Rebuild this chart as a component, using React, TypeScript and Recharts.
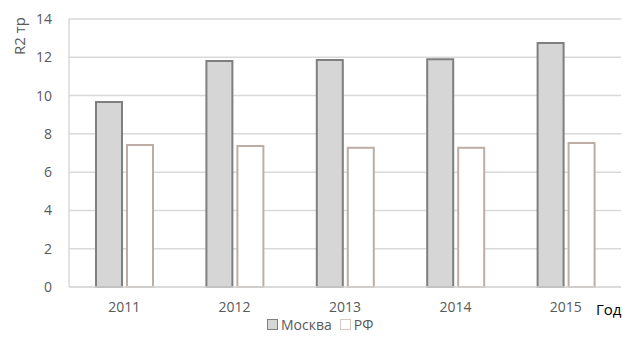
import { Bar, BarChart, CartesianGrid, XAxis, YAxis } from 'recharts';

// годы и показатели
const years = ['2011', '2012', '2013', '2014', '2015'];
const moscow = [9.66, 11.8, 11.86, 11.9, 12.75];
const russia = [7.42, 7.37, 7.27, 7.27, 7.52];
const yTicks = [0, 2, 4, 6, 8, 10, 12, 14];

const seriesNames = { moscow: 'Москва', russia: 'РФ' };
const font = "'Open Sans', 'Noto Sans', sans-serif";

const data = years.map((year, i) => ({ year, moscow: moscow[i], russia: russia[i] }));

export default function App() {
  return (
    <div
      style={{
        position: 'absolute',
        left: 0,
        top: 0,
        width: 623,
        height: 340,
        background: '#fff',
        fontFamily: font,
      }}
    >
      <BarChart
        width={623}
        height={317}
        data={data}
        margin={{ top: 19, right: 2, left: 0, bottom: 0 }}
        barSize={26}
        barGap={5}
      >
        <CartesianGrid vertical={false} stroke="#d9d9d9" strokeWidth={1.5} />
        <XAxis
          dataKey="year"
          height={30}
          axisLine={{ stroke: '#d9d9d9', strokeWidth: 1.5 }}
          tickLine={false}
          tickSize={0}
          tickMargin={15}
          tick={{ fill: '#595959', fontSize: 14, fontFamily: font }}
        />
        <YAxis
          width={69}
          domain={[0, 14]}
          ticks={yTicks}
          interval={0}
          axisLine={{ stroke: '#d9d9d9', strokeWidth: 1.5 }}
          tickLine={false}
          tickSize={0}
          tickMargin={17}
          tick={{ fill: '#595959', fontSize: 14, fontFamily: font }}
        />
        <Bar
          dataKey="moscow"
          name={seriesNames.moscow}
          fill="#d6d6d6"
          stroke="#7f7f7f"
          strokeWidth={2}
          isAnimationActive={false}
        />
        <Bar
          dataKey="russia"
          name={seriesNames.russia}
          fill="#ffffff"
          stroke="#bcaea6"
          strokeWidth={2}
          isAnimationActive={false}
        />
      </BarChart>

      {/* подпись оси Y */}
      <div
        style={{
          position: 'absolute',
          left: 19,
          top: 36,
          transform: 'translate(-50%, -50%) rotate(-90deg)',
          fontSize: 15,
          color: '#595959',
          whiteSpace: 'nowrap',
        }}
      >
        R2 тр
      </div>

      {/* подпись оси X */}
      <div
        style={{
          position: 'absolute',
          left: 596,
          top: 299,
          fontSize: 15,
          color: '#000',
        }}
      >
        Год
      </div>

      {/* легенда */}
      <div
        style={{
          position: 'absolute',
          left: 267,
          top: 315,
          display: 'flex',
          alignItems: 'center',
          fontSize: 14,
          color: '#595959',
        }}
      >
        <span
          style={{
            width: 9,
            height: 9,
            background: '#d6d6d6',
            border: '1px solid #7f7f7f',
            marginRight: 3,
          }}
        />
        <span style={{ marginRight: 8 }}>{seriesNames.moscow}</span>
        <span
          style={{
            width: 9,
            height: 9,
            background: '#fff',
            border: '1px solid #d8c8c0',
            marginRight: 3,
          }}
        />
        <span>{seriesNames.russia}</span>
      </div>
    </div>
  );
}
